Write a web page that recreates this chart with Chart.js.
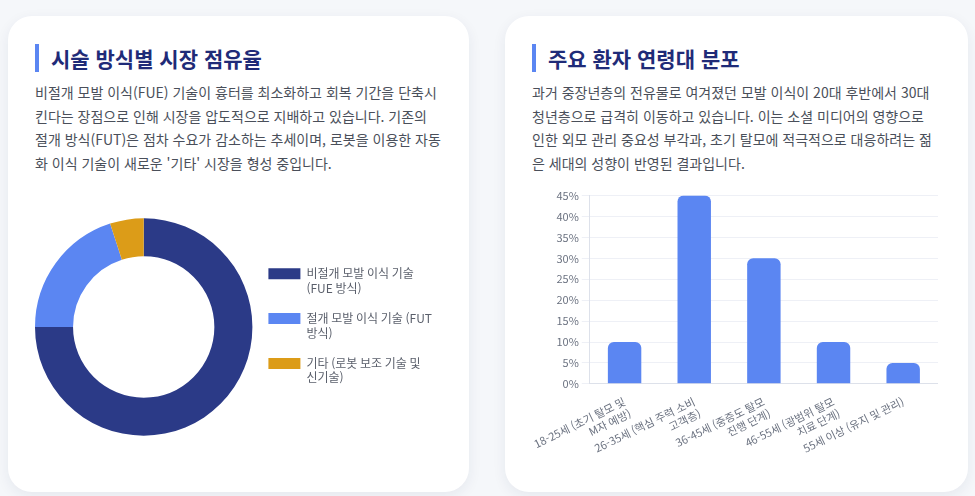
<!DOCTYPE html>
<html lang="ko">
<head>
<meta charset="utf-8">
<script src="https://cdn.jsdelivr.net/npm/chart.js@4.4.1/dist/chart.umd.min.js"></script>
<style>
    * { box-sizing: border-box; margin: 0; padding: 0; }
    body {
        width: 975px; height: 496px; overflow: hidden;
        background: #f5f7fa;
        font-family: "Noto Sans CJK KR", "Noto Sans", sans-serif;
    }
    .wrap { display: flex; gap: 36px; padding: 16px 7px 0 8px; }
    .card {
        background: #fff; border-radius: 24px;
        box-shadow: 0 4px 14px rgba(30, 40, 80, 0.07);
        padding: 28px 27px 0 27px;
        height: 476px;
    }
    .card.left { width: 461px; }
    .card.right { width: 463px; padding-right: 32px; }
    h2 {
        font-size: 21px; font-weight: 700; color: #1f2b78;
        border-left: 4px solid #5b86f2; padding-left: 12px;
        line-height: 28px;
    }
    p {
        margin-top: 9px; font-size: 14px; line-height: 23.5px; color: #4a4f5a;
    }
    .chart-box { position: relative; }
</style>
</head>
<body>
<div class="wrap">
    <div class="card left">
        <h2>시술 방식별 시장 점유율</h2>
        <p>비절개 모발 이식(FUE) 기술이 흉터를 최소화하고 회복 기간을 단축시킨다는 장점으로 인해 시장을 압도적으로 지배하고 있습니다. 기존의 절개 방식(FUT)은 점차 수요가 감소하는 추세이며, 로봇을 이용한 자동화 이식 기술이 새로운 '기타' 시장을 형성 중입니다.</p>
        <div class="chart-box" style="height:300px; margin-top:2px;"><canvas id="shareChart"></canvas></div>
    </div>
    <div class="card right">
        <h2>주요 환자 연령대 분포</h2>
        <p>과거 중장년층의 전유물로 여겨졌던 모발 이식이 20대 후반에서 30대 청년층으로 급격히 이동하고 있습니다. 이는 소셜 미디어의 영향으로 인한 외모 관리 중요성 부각과, 초기 탈모에 적극적으로 대응하려는 젊은 세대의 성향이 반영된 결과입니다.</p>
        <div class="chart-box" style="width:410px; height:284px; margin:11px 0 0 -4px;"><canvas id="ageChart"></canvas></div>
    </div>
</div>
<script>
// 시술 방식별 점유율 (%)
const methodLabels = [
    ["비절개 모발 이식 기술", "(FUE 방식)"],
    ["절개 모발 이식 기술 (FUT", "방식)"],
    ["기타 (로봇 보조 기술 및", "신기술)"]
];
const methodShares = [75, 20, 5];
const methodColors = ["#2b3a87", "#5b86f2", "#dc9c18"];

// 연령대별 환자 비율 (%)
const ageLabels = [
    ["18-25세 (초기 탈모 및", "M자 예방)"],
    ["26-35세 (핵심 주력 소비", "고객층)"],
    ["36-45세 (중증도 탈모", "진행 단계)"],
    ["46-55세 (광범위 탈모", "치료 단계)"],
    "55세 이상 (유지 및 관리)"
];
const agePercents = [10, 45, 30, 10, 5];

Chart.defaults.font.family = '"Noto Sans CJK KR", "Noto Sans", sans-serif';
Chart.defaults.color = "#6b7280";
Chart.defaults.animation = false;

new Chart(document.getElementById("shareChart"), {
    type: "doughnut",
    data: {
        labels: methodLabels,
        datasets: [{
            data: methodShares,
            backgroundColor: methodColors,
            borderWidth: 0,
        }]
    },
    options: {
        responsive: true,
        maintainAspectRatio: false,
        cutout: "65%",
        plugins: {
            legend: {
                position: "right",
                labels: {
                    boxWidth: 32,
                    boxHeight: 11,
                    padding: 16,
                    color: "#5a5f6b",
                    font: { size: 12 },
                }
            },
            tooltip: { enabled: false }
        }
    }
});

new Chart(document.getElementById("ageChart"), {
    type: "bar",
    data: {
        labels: ageLabels,
        datasets: [{
            data: agePercents,
            backgroundColor: "#5b86f2",
            borderRadius: 6,
            borderSkipped: "bottom",
            barPercentage: 0.6,
        }]
    },
    options: {
        responsive: true,
        maintainAspectRatio: false,
        plugins: { legend: { display: false }, tooltip: { enabled: false } },
        scales: {
            y: {
                beginAtZero: true,
                max: 45,
                ticks: { stepSize: 5, font: { size: 11 }, callback: v => v + "%" },
                grid: { color: "#eef0f6" },
                border: { color: "#dde1ea" },
            },
            x: {
                grid: { display: false },
                border: { color: "#dde1ea" },
                ticks: { font: { size: 11 }, maxRotation: 26, minRotation: 26 },
            },
        },
    }
});
</script>
</body>
</html>
